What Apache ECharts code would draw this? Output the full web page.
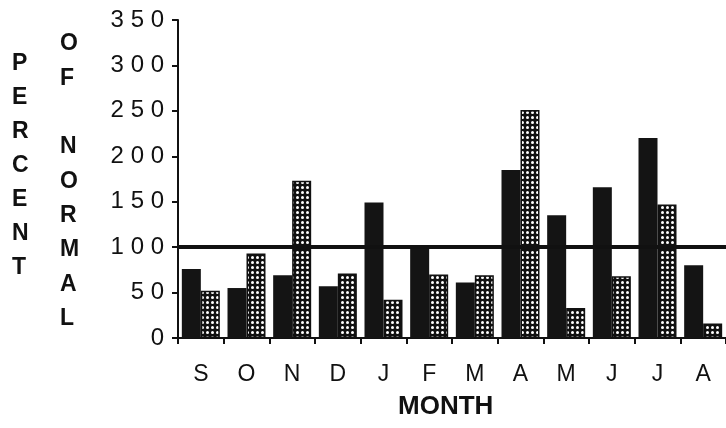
<!DOCTYPE html>
<html>
<head>
<meta charset="utf-8">
<script src="https://cdn.jsdelivr.net/npm/echarts@6/dist/echarts.min.js"></script>
<style>
html,body{margin:0;padding:0;background:#fff;}
#c{width:726px;height:428px;}
</style>
</head>
<body>
<div id="c"></div>
<script>
var months = ['S','O','N','D','J','F','M','A','M','J','J','A'];
var darkSeries = [76, 55, 69, 57, 149, 99, 61, 185, 135, 166, 220, 80];
var dottedSeries = [52, 93, 173, 71, 42, 70, 69, 251, 33, 68, 147, 16];
var yTicks = [0, 50, 100, 150, 200, 250, 300, 350];
var normalLevel = 100;

function makeDots(){
  var c = document.createElement('canvas');
  c.width = 5; c.height = 5;
  var g = c.getContext('2d');
  g.fillStyle = '#111';
  g.fillRect(0,0,5,5);
  g.fillStyle = '#fff';
  g.beginPath();
  g.arc(2.5,2.5,1.5,0,Math.PI*2);
  g.fill();
  return c;
}

var chart = echarts.init(document.getElementById('c'));
var font = '"Liberation Sans", Arial, Helvetica, sans-serif';
chart.setOption({
  animation: false,
  backgroundColor: '#fff',
  grid: {left: 178, top: 20, bottom: 90, width: 552},
  xAxis: {
    type: 'category',
    data: months,
    axisLine: {lineStyle: {color: '#111', width: 2}},
    axisTick: {show: true, length: 6, lineStyle: {color: '#111', width: 2}},
    axisLabel: {color: '#111', fontSize: 23, fontFamily: font, margin: 25}
  },
  yAxis: {
    type: 'value',
    min: yTicks[0],
    max: yTicks[yTicks.length-1],
    interval: 50,
    splitLine: {show: false},
    axisLine: {show: true, lineStyle: {color: '#111', width: 2}},
    axisTick: {show: true, length: 6, lineStyle: {color: '#111', width: 2}},
    axisLabel: {
      color: '#111', fontSize: 24, fontFamily: font, margin: 14,
      formatter: function(v){ return String(v).split('').join(' '); }
    }
  },
  series: [
    {
      type: 'bar',
      data: darkSeries,
      barWidth: 19,
      barGap: '0%',
      itemStyle: {color: '#141414'},
      markLine: {
        silent: true,
        symbol: 'none',
        label: {show: false},
        lineStyle: {color: '#111', width: 4, type: 'solid'},
        data: [{yAxis: normalLevel}]
      }
    },
    {
      type: 'bar',
      data: dottedSeries,
      barWidth: 19,
      barGap: '0%',
      itemStyle: {color: {image: makeDots(), repeat: 'repeat'}, borderColor: '#111', borderWidth: 1.5}
    }
  ],
  graphic: [
    {type: 'text', left: 12, top: 47, style: {text: 'P\nE\nR\nC\nE\nN\nT', font: 'bold 23px ' + font, fill: '#111', lineHeight: 34, align: 'center'}},
    {type: 'text', left: 60, top: 27, style: {text: 'O\nF\n\nN\nO\nR\nM\nA\nL', font: 'bold 23px ' + font, fill: '#111', lineHeight: 34.3, align: 'center'}},
    {type: 'text', left: 398, top: 394, style: {text: 'MONTH', font: 'bold 26px ' + font, fill: '#111'}}
  ]
});
</script>
</body>
</html>
